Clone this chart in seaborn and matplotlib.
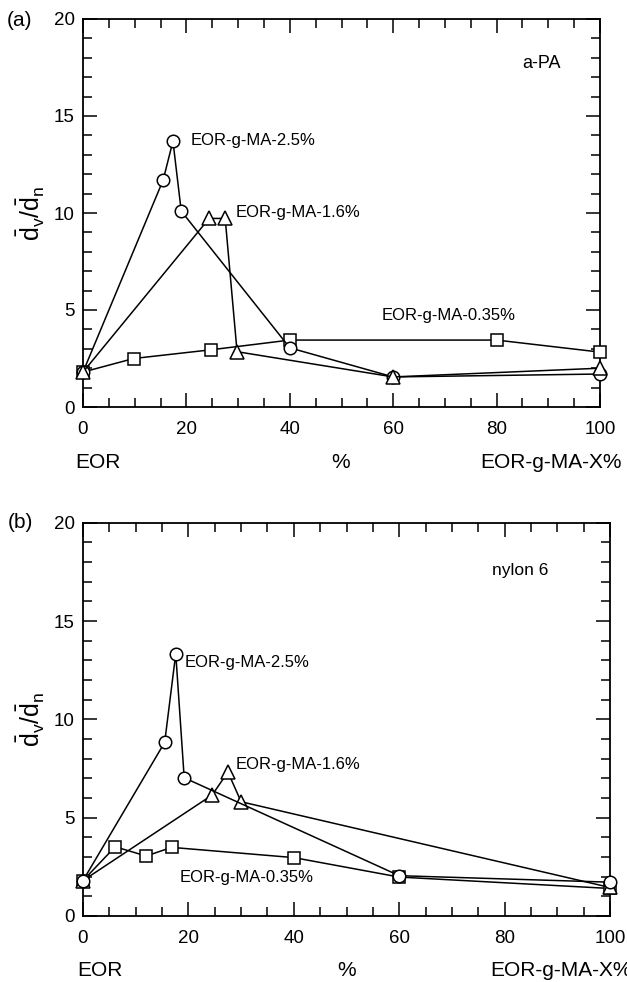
import matplotlib
matplotlib.use("Agg")
import matplotlib.pyplot as plt
import seaborn as sns
import pandas as pd
from matplotlib.ticker import MultipleLocator

sns.set_theme(style="ticks")
plt.rcParams['font.family'] = ['Liberation Sans', 'DejaVu Sans']
plt.rcParams['mathtext.fontset'] = 'custom'
plt.rcParams['mathtext.rm'] = 'Liberation Sans'
plt.rcParams['mathtext.it'] = 'Liberation Sans'
plt.rcParams['text.color'] = 'black'
plt.rcParams['axes.labelcolor'] = 'black'
plt.rcParams['xtick.color'] = 'black'
plt.rcParams['ytick.color'] = 'black'

# ---- Data: panel (a) a-PA ----
a_c_x = [0, 15.5, 17.4, 19.0, 40, 60, 100]
a_c_y = [1.8, 11.7, 13.7, 10.1, 3.05, 1.55, 1.7]
a_t_x = [0, 24.4, 27.5, 29.8, 60, 100]
a_t_y = [1.8, 9.72, 9.72, 2.85, 1.55, 2.0]
a_s_x = [0, 9.8, 24.8, 40, 80, 100]
a_s_y = [1.8, 2.5, 2.95, 3.45, 3.45, 2.83]

# ---- Data: panel (b) nylon 6 ----
b_c_x = [0, 15.5, 17.6, 19.2, 60, 100]
b_c_y = [1.8, 8.83, 13.34, 7.03, 2.05, 1.72]
b_t_x = [0, 24.5, 27.5, 30.0, 100]
b_t_y = [1.8, 6.15, 7.32, 5.81, 1.45]
b_s_x = [0, 6.1, 12.0, 16.8, 40, 60, 100]
b_s_y = [1.8, 3.52, 3.05, 3.49, 2.97, 1.98, 1.4]

series_labels = ["EOR-g-MA-2.5%", "EOR-g-MA-1.6%", "EOR-g-MA-0.35%"]
x_words = ["EOR", "%", "EOR-g-MA-X%"]

fig = plt.figure(figsize=(6.27, 9.82), dpi=100)
W, H = 627, 982
ax_a = fig.add_axes([83 / W, 1 - 407 / H, 517 / W, 388 / H])
ax_b = fig.add_axes([83 / W, 1 - 916 / H, 527 / W, 393.3 / H])

mk = dict(color='black', markerfacecolor='white', markeredgecolor='black',
          markeredgewidth=1.1, linewidth=1.1, estimator=None, sort=False,
          legend=False, clip_on=False)


def draw(ax, sx, sy, cx, cy, tx, ty, order):
    funcs = {
        's': lambda z: sns.lineplot(x=sx, y=sy, ax=ax, marker='s', markersize=8, zorder=z, **mk),
        'o': lambda z: sns.lineplot(x=cx, y=cy, ax=ax, marker='o', markersize=9, zorder=z, **mk),
        '^': lambda z: sns.lineplot(x=tx, y=ty, ax=ax, marker='^', markersize=9.5, zorder=z, **mk),
    }
    for i, k in enumerate(order):
        funcs[k](3 + i)
    ax.set_xlim(0, 100)
    ax.set_ylim(0, 20)
    ax.xaxis.set_major_locator(MultipleLocator(20))
    ax.xaxis.set_minor_locator(MultipleLocator(5))
    ax.yaxis.set_major_locator(MultipleLocator(5))
    ax.yaxis.set_minor_locator(MultipleLocator(1))
    ax.tick_params(which='both', direction='in', top=True, right=True,
                   color='black', width=1.1)
    ax.tick_params(which='major', length=10)
    ax.tick_params(which='minor', length=6.5)
    ax.tick_params(axis='x', which='major', pad=10, labelsize=13.5)
    ax.tick_params(axis='y', which='major', pad=6, labelsize=13.5)
    for sp in ax.spines.values():
        sp.set_visible(True)
        sp.set_color('black')
        sp.set_linewidth(1.3)
        sp.set_zorder(2)
    ax.set_xlabel('')
    ax.set_ylabel(r'$\bar{\mathrm{d}}_\mathrm{v}/\bar{\mathrm{d}}_\mathrm{n}$', fontsize=18, labelpad=5)
    ax.set_facecolor('white')


draw(ax_a, a_s_x, a_s_y, a_c_x, a_c_y, a_t_x, a_t_y, ['s', 'o', '^'])
draw(ax_b, b_s_x, b_s_y, b_c_x, b_c_y, b_t_x, b_t_y, ['s', '^', 'o'])

# annotations panel a
ann = dict(fontsize=12, va='center', ha='left', color='black')
ax_a.text(20.8, 13.75, series_labels[0], **ann)
ax_a.text(29.6, 10.0, series_labels[1], **ann)
ax_a.text(57.8, 4.7, series_labels[2], **ann)
ax_a.text(85.0, 17.7, "a-PA", fontsize=13, va='center', ha='left')

# annotations panel b
ax_b.text(19.2, 12.9, series_labels[0], **ann)
ax_b.text(29.0, 7.7, series_labels[1], **ann)
ax_b.text(18.3, 1.97, series_labels[2], **ann)
ax_b.text(77.6, 17.55, "nylon 6", fontsize=12.5, va='center', ha='left')

# panel letters
fig.text(7 / W, 1 - 20 / H, "(a)", fontsize=15, va='center', ha='left')
fig.text(8 / W, 1 - 523 / H, "(b)", fontsize=15, va='center', ha='left')

# x-axis word labels
fig.text(98 / W, 1 - 463 / H, x_words[0], fontsize=15, va='center', ha='center')
fig.text(341 / W, 1 - 463 / H, x_words[1], fontsize=15, va='center', ha='center')
fig.text(480 / W, 1 - 463 / H, x_words[2], fontsize=15, va='center', ha='left')
fig.text(100 / W, 1 - 970 / H, x_words[0], fontsize=15, va='center', ha='center')
fig.text(347 / W, 1 - 970 / H, x_words[1], fontsize=15, va='center', ha='center')
fig.text(490 / W, 1 - 970 / H, x_words[2], fontsize=15, va='center', ha='left')

fig.savefig("out.png", dpi=100, facecolor='white')
